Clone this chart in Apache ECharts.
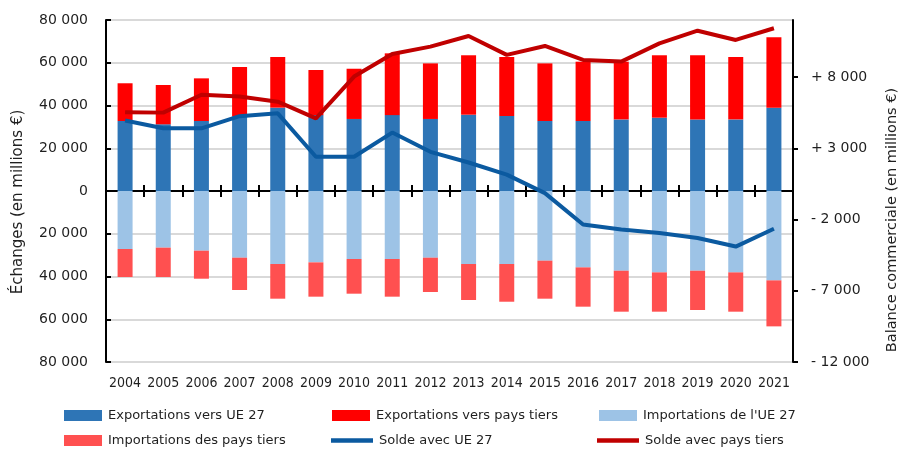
<!DOCTYPE html>
<html>
<head>
<meta charset="utf-8">
<script src="https://cdn.jsdelivr.net/npm/echarts@6/dist/echarts.min.js"></script>
<style>html,body{margin:0;padding:0;background:#fff}#c{width:900px;height:450px}</style>
</head>
<body>
<div id="c"></div>
<script>
const years = ['2004','2005','2006','2007','2008','2009','2010','2011','2012','2013','2014','2015','2016','2017','2018','2019','2020','2021'];
const exportsUE = [32750, 31200, 32750, 34800, 39000, 35500, 33700, 35500, 33700, 35700, 35100, 32750, 32750, 33500, 34300, 33500, 33500, 39000];
const exportsTiers = [17650, 18400, 19950, 23200, 23700, 21100, 23500, 28900, 26000, 27800, 27600, 26950, 27750, 27000, 29200, 30000, 29200, 32900];
const importsUE = [-27130, -26500, -27930, -31200, -34160, -33380, -31820, -31820, -31200, -34160, -34160, -32600, -35740, -37300, -38080, -37300, -38080, -41820];
const importsTiers = [-13100, -13730, -13100, -15130, -16220, -16060, -16220, -17620, -16060, -16840, -17640, -17780, -18380, -19160, -18380, -18380, -18380, -21510];
const soldeUE = [4950, 4400, 4400, 5250, 5450, 2400, 2400, 4100, 2750, 2000, 1150, -150, -2350, -2700, -2950, -3300, -3900, -2650];
const soldeTiers = [5530, 5500, 6750, 6630, 6270, 5100, 8030, 9620, 10130, 10880, 9550, 10180, 9200, 9080, 10360, 11250, 10600, 11420];
const rightTicks = [-12000, -7000, -2000, 3000, 8000];

const FONT = 'DejaVu Sans';
const TXT = '#1f1f1f';
function sp(n){ return String(Math.abs(n)).replace(/\B(?=(\d{3})+(?!\d))/g, ' '); }

const LINE_ICON = 'path://M0,0 L40,0 L40,4.5 L0,4.5 Z';
function leg(name, left, top, icon, w) {
  return {
    data: [{name: name, icon: icon}], left: left, top: top, orient: 'horizontal',
    itemWidth: w || 38, itemHeight: 11, padding: 0, selectedMode: false,
    textStyle: {fontFamily: FONT, fontSize: 13, color: TXT, padding: [0,0,0,1]}
  };
}

const chart = echarts.init(document.getElementById('c'), null, {renderer:'canvas'});
chart.setOption({
  animation: false,
  backgroundColor: '#fff',
  grid: {left: 106, right: 107, top: 20, bottom: 88, containLabel: false, outerBoundsMode: 'none'},
  legend: [
    leg('Exportations vers UE 27', 64, 409, 'rect'),
    leg('Exportations vers pays tiers', 332, 409, 'rect'),
    leg("Importations de l'UE 27", 599, 409, 'rect'),
    leg('Importations des pays tiers', 64, 434, 'rect'),
    leg('Solde avec UE 27', 331, 434, LINE_ICON, 42),
    leg('Solde avec pays tiers', 597, 434, LINE_ICON, 42)
  ],
  xAxis: [
    {type: 'category', data: years, position: 'bottom',
     axisLine: {onZero: true, lineStyle: {color: '#000', width: 2}},
     axisTick: {show: true, inside: false, length: 6, lineStyle: {color: '#000', width: 2}},
     axisLabel: {show: false}, splitLine: {show: false}},
    {type: 'category', data: years, position: 'bottom',
     axisLine: {show: false, onZero: true},
     axisTick: {show: true, inside: true, length: 6, lineStyle: {color: '#000', width: 2}},
     axisLabel: {show: false}, splitLine: {show: false}},
    {type: 'category', data: years, position: 'bottom',
     axisLine: {show: false, onZero: false}, axisTick: {show: false},
     axisLabel: {show: true, interval: 0, margin: 14, fontFamily: 'DejaVu Sans Condensed', fontSize: 14, color: TXT},
     splitLine: {show: false}}
  ],
  yAxis: [
    {type: 'value', min: -80000, max: 80000, interval: 20000, position: 'left',
     axisLine: {show: true, onZero: false, lineStyle: {color: '#000', width: 2}},
     axisTick: {show: true, inside: true, length: 5, lineStyle: {color: '#000', width: 2}},
     axisLabel: {fontFamily: FONT, fontSize: 14, color: TXT, margin: 18, formatter: v => sp(v)},
     splitLine: {show: true, lineStyle: {color: '#d9d9d9', width: 2}},
     name: 'Échanges (en millions €)', nameLocation: 'middle', nameGap: 80, nameRotate: 90,
     nameTextStyle: {fontFamily: FONT, fontSize: 15, color: TXT, padding: [0, 22, 0, 0]}},
    {type: 'value', min: -12000, max: 12000, interval: 5000, position: 'right',
     axisLine: {show: true, onZero: false, lineStyle: {color: '#000', width: 2}},
     axisTick: {show: true, inside: false, length: 5, customValues: rightTicks, lineStyle: {color: '#000', width: 2}},
     axisLabel: {fontFamily: FONT, fontSize: 14, color: TXT, margin: 18, customValues: rightTicks,
       formatter: v => v > 0 ? '+ ' + sp(v) : (v < 0 ? '- ' + sp(v) : '0')},
     splitLine: {show: false},
     name: 'Balance commerciale (en millions €)', nameLocation: 'middle', nameGap: 92, nameRotate: 90,
     nameTextStyle: {fontFamily: FONT, fontSize: 14.5, color: TXT, padding: [0, 58, 0, 0]}}
  ],
  series: [
    {name: 'Exportations vers UE 27', type: 'bar', stack: 'a', data: exportsUE, barWidth: 15, itemStyle: {color: '#2e75b6'}},
    {name: 'Exportations vers pays tiers', type: 'bar', stack: 'a', data: exportsTiers, barWidth: 15, itemStyle: {color: '#ff0000'}},
    {name: "Importations de l'UE 27", type: 'bar', stack: 'a', data: importsUE, barWidth: 15, itemStyle: {color: '#9dc3e6'}},
    {name: 'Importations des pays tiers', type: 'bar', stack: 'a', data: importsTiers, barWidth: 15, itemStyle: {color: '#ff5050'}},
    {name: 'Solde avec UE 27', type: 'line', yAxisIndex: 1, data: soldeUE, symbol: 'none', z: 5,
     lineStyle: {color: '#0b5aa0', width: 4}, itemStyle: {color: '#0b5aa0'}},
    {name: 'Solde avec pays tiers', type: 'line', yAxisIndex: 1, data: soldeTiers, symbol: 'none', z: 5,
     lineStyle: {color: '#c00000', width: 4}, itemStyle: {color: '#c00000'}}
  ]
});
</script>
</body>
</html>
